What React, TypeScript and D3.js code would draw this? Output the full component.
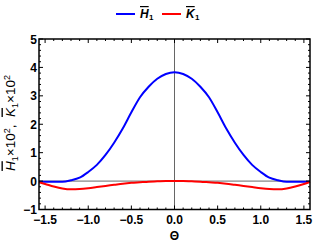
import React from "react";
import * as d3 from "d3";

// theta samples (rad) and the two series (values x10^2)
const theta = [-1.5708, -1.5, -1.4, -1.3, -1.2, -1.1, -1.0, -0.9, -0.8, -0.7, -0.6, -0.5, -0.4, -0.3, -0.2, -0.1, 0,
  0.1, 0.2, 0.3, 0.4, 0.5, 0.6, 0.7, 0.8, 0.9, 1.0, 1.1, 1.2, 1.3, 1.4, 1.5, 1.5708];
const H1 = [-0.02, -0.02, -0.02, -0.02, 0.03, 0.12, 0.32, 0.57, 0.92, 1.35, 1.85, 2.42, 2.95, 3.32, 3.6, 3.77, 3.83,
  3.77, 3.6, 3.32, 2.95, 2.42, 1.85, 1.35, 0.92, 0.57, 0.32, 0.12, 0.03, -0.02, -0.02, -0.02, -0.02];
const K1 = [-0.04, -0.1, -0.19, -0.26, -0.29, -0.28, -0.25, -0.21, -0.17, -0.13, -0.09, -0.06, -0.04, -0.02, -0.01, 0.0, 0.0,
  0.0, -0.01, -0.02, -0.04, -0.06, -0.09, -0.13, -0.17, -0.21, -0.25, -0.28, -0.29, -0.26, -0.19, -0.1, -0.03];
const xTicks = [-1.5, -1.0, -0.5, 0.0, 0.5, 1.0, 1.5];
const yTicks = [-1, 0, 1, 2, 3, 4, 5];

const W = 317;
const H = 247;
const margin = { top: 39, right: 7, bottom: 37.5, left: 39 };

export default function App() {
  const x = d3.scaleLinear([-Math.PI / 2, Math.PI / 2], [margin.left, W - margin.right]);
  const y = d3.scaleLinear([-1, 5], [H - margin.bottom, margin.top]);
  const line = (vals: number[]) =>
    d3.line<number>().x((_, i) => x(theta[i])).y(d => y(d)).curve(d3.curveMonotoneX)(vals) || "";

  const xMinor = d3.range(-15, 16).map(d => d / 10).filter(d => !xTicks.some(t => Math.abs(t - d) < 1e-6));
  const yMinor = d3.range(-5, 26).map(d => d / 5).filter(d => !yTicks.some(t => Math.abs(t - d) < 1e-6));

  const [x0, x1] = x.range();
  const [y0, y1] = y.range();
  const font = "'Liberation Sans', Arial, sans-serif";

  return (
    <svg width={W} height={H} style={{ position: "absolute", left: 0, top: 0 }} fontFamily={font}>
      <rect width={W} height={H} fill="white" />
      {/* legend */}
      <g fontSize={12}>
        <line x1={116} x2={135} y1={14} y2={14} stroke="#0000ff" strokeWidth={2} />
        <text x={140} y={18} fontStyle="italic" fontWeight="bold" style={{ textDecoration: "overline" }}>H</text>
        <text x={149} y={20} fontSize={8} fontWeight="bold">1</text>
        <line x1={162} x2={181} y1={14} y2={14} stroke="#ff0000" strokeWidth={2} />
        <text x={186} y={18} fontStyle="italic" fontWeight="bold" style={{ textDecoration: "overline" }}>K</text>
        <text x={195} y={20} fontSize={8} fontWeight="bold">1</text>
      </g>
      {/* axes at zero */}
      <line x1={x0} x2={x1} y1={y(0)} y2={y(0)} stroke="#666" strokeWidth={1} />
      <line x1={x(0)} x2={x(0)} y1={y0} y2={y1} stroke="#666" strokeWidth={1} />
      {/* curves */}
      <path d={line(H1)} fill="none" stroke="#0000ff" strokeWidth={2} />
      <path d={line(K1)} fill="none" stroke="#ff0000" strokeWidth={2} />
      {/* ticks */}
      <g stroke="black" strokeWidth={1}>
        {xTicks.map(t => (
          <g key={"xt" + t}>
            <line x1={x(t)} x2={x(t)} y1={y0} y2={y0 - 4} />
            <line x1={x(t)} x2={x(t)} y1={y1} y2={y1 + 4} />
          </g>
        ))}
        {xMinor.map(t => (
          <g key={"xm" + t}>
            <line x1={x(t)} x2={x(t)} y1={y0} y2={y0 - 2} />
            <line x1={x(t)} x2={x(t)} y1={y1} y2={y1 + 2} />
          </g>
        ))}
        {yTicks.map(t => (
          <g key={"yt" + t}>
            <line x1={x0} x2={x0 + 4} y1={y(t)} y2={y(t)} />
            <line x1={x1} x2={x1 - 4} y1={y(t)} y2={y(t)} />
          </g>
        ))}
        {yMinor.map(t => (
          <g key={"ym" + t}>
            <line x1={x0} x2={x0 + 2} y1={y(t)} y2={y(t)} />
            <line x1={x1} x2={x1 - 2} y1={y(t)} y2={y(t)} />
          </g>
        ))}
      </g>
      {/* frame */}
      <rect x={x0} y={y1} width={x1 - x0} height={y0 - y1} fill="none" stroke="black" strokeWidth={1.5} />
      {/* tick labels */}
      <g fontSize={12} fontWeight="bold">
        {xTicks.map(t => (
          <text key={"xl" + t} x={x(t)} y={y0 + 14} textAnchor="middle">
            {d3.format(".1f")(t).replace("-", "\u2212")}
          </text>
        ))}
        {yTicks.map(t => (
          <text key={"yl" + t} x={x0 - 2} y={y(t) + 4.5} textAnchor="end">
            {String(t).replace("-", "\u2212")}
          </text>
        ))}
      </g>
      {/* axis titles */}
      <text x={x(0)} y={240} textAnchor="middle" fontSize={12} fontWeight="bold">Θ</text>
      <text transform={`translate(14.5,123) rotate(-90)`} textAnchor="middle" fontSize={13.5}>
        <tspan fontStyle="italic" style={{ textDecoration: "overline" }}>H</tspan>
        <tspan fontSize={9} dy={3}>1</tspan>
        <tspan dy={-3}>{"\u00d710"}</tspan>
        <tspan fontSize={9} dy={-5}>2</tspan>
        <tspan dy={5}>{",\u00a0\u00a0"}</tspan>
        <tspan fontStyle="italic" style={{ textDecoration: "overline" }}>K</tspan>
        <tspan fontSize={9} dy={3}>1</tspan>
        <tspan dy={-3}>{"\u00d710"}</tspan>
        <tspan fontSize={9} dy={-5}>2</tspan>
      </text>
    </svg>
  );
}
